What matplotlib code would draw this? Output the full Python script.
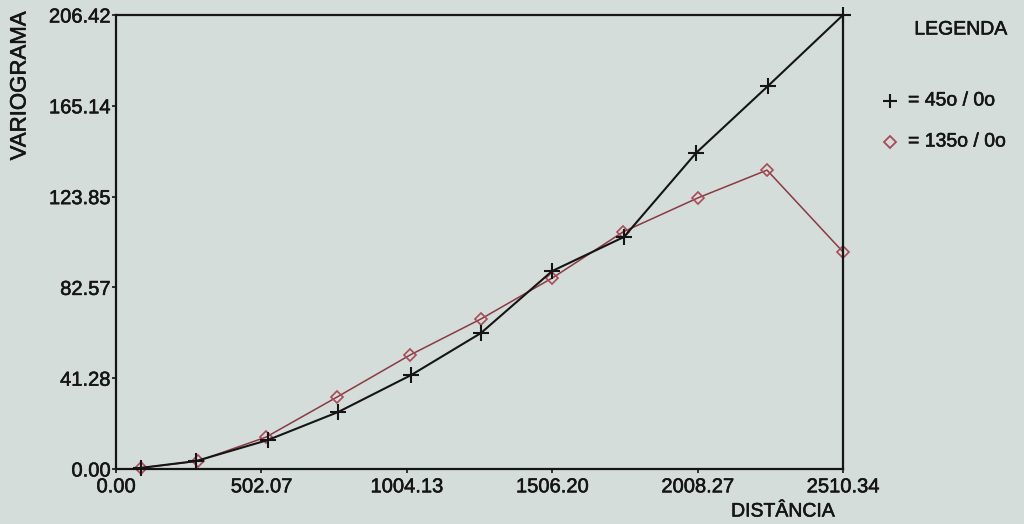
import matplotlib
matplotlib.use("Agg")
import matplotlib.pyplot as plt
from matplotlib.lines import Line2D
import matplotlib.patheffects as pe

plt.rcParams['font.family'] = ['Liberation Sans', 'DejaVu Sans']

# Data
dist_45 = [86, 276, 525, 767, 1019, 1260, 1506, 1754, 2003, 2251, 2510.34]
gam_45 = [0.5, 3.6, 13.2, 25.9, 42.7, 61.8, 90.0, 105.5, 143.7, 174.1, 206.42]
dist_135 = [86, 283, 518, 763, 1015, 1260, 1506, 1751, 2010, 2248, 2510.34]
gam_135 = [0.5, 3.6, 14.5, 32.7, 51.8, 68.2, 86.8, 107.8, 123.3, 135.9, 98.7]

xticks = [0.00, 502.07, 1004.13, 1506.20, 2008.27, 2510.34]
yticks = [0.00, 41.28, 82.57, 123.85, 165.14, 206.42]
legend_labels = ["= 45o / 0o", "= 135o / 0o"]

bg = '#d4ddd9'
red = '#a84a58'
ink = '#151515'
bold = [pe.withStroke(linewidth=0.4, foreground=ink)]

fig = plt.figure(figsize=(10.24, 5.24), dpi=100, facecolor=bg)
ax = fig.add_axes([116/1024, 55/524, 727/1024, 454/524])
ax.set_facecolor(bg)

ax.plot(dist_45, gam_45, color=ink, lw=1.5, marker='+', ms=11, mew=1.5,
        clip_on=False, zorder=3)
ax.plot(dist_135, gam_135, color='#8a3a44', lw=1.1, marker='D', ms=6.5,
        mfc='none', mec=red, mew=1.2, clip_on=False, zorder=2)

ax.set_xlim(0, 2510.34)
ax.set_ylim(0, 206.42)
ax.set_xticks(xticks)
ax.set_xticklabels([f"{v:.2f}" for v in xticks])
ax.set_yticks(yticks)
ax.set_yticklabels([f"{v:.2f}" for v in yticks])
ax.tick_params(direction='out', length=3, width=1.2, labelsize=14.5,
               colors=ink)
ax.tick_params(axis='x', pad=3)
ax.tick_params(axis='y', pad=1)
for lab in ax.get_xticklabels() + ax.get_yticklabels():
    lab.set_path_effects(bold)
for s in ax.spines.values():
    s.set_linewidth(1.6)
    s.set_color(ink)

kw = dict(color=ink, path_effects=bold)
fig.text(20/1024, 1 - 11/524, "VARIOGRAMA", rotation=90, ha='center', va='top',
         fontsize=16, **kw)
fig.text(783/1024, 1 - 512/524, "DISTÂNCIA", ha='center', va='center',
         fontsize=14, **kw)

fig.text(961/1024, 1 - 30/524, "LEGENDA", ha='center', va='center',
         fontsize=14, **kw)
fig.add_artist(Line2D([890/1024], [1 - 101/524], marker='+', ms=10, mew=1.5,
                      color=ink, transform=fig.transFigure))
fig.add_artist(Line2D([890/1024], [1 - 142/524], marker='D', ms=6, mew=1.3,
                      mfc='none', mec=red, transform=fig.transFigure))
fig.text(908/1024, 1 - 101/524, legend_labels[0], ha='left', va='center',
         fontsize=14, **kw)
fig.text(908/1024, 1 - 142/524, legend_labels[1], ha='left', va='center',
         fontsize=14, **kw)

fig.savefig("out.png", dpi=100, facecolor=bg)
